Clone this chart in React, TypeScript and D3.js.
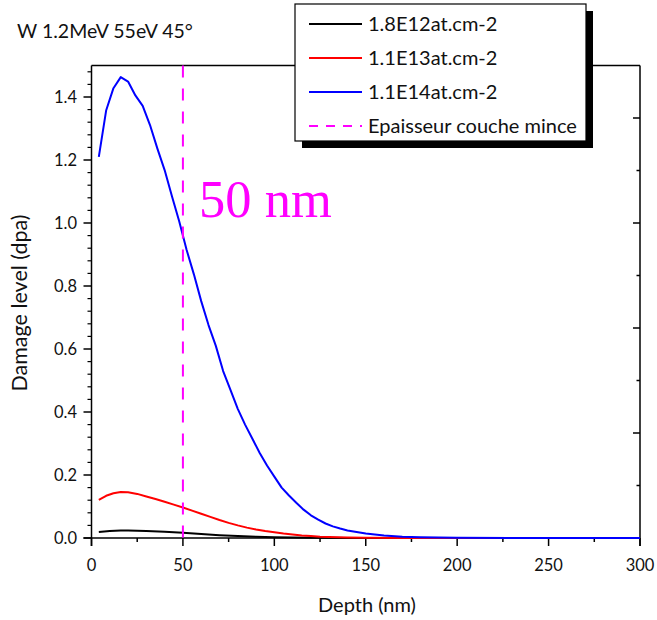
import React from "react";
import * as d3 from "d3";

const blueX = [4, 8, 12, 16, 20, 24, 28, 32, 36, 40, 44, 48, 52, 56, 60, 64, 68, 72, 76, 80, 84, 88, 92, 96, 100, 104, 108, 112, 116, 120, 124, 128, 132, 136, 140, 150, 160, 170, 180, 200, 250, 300];
const blueY = [1.21, 1.357, 1.428, 1.463, 1.449, 1.405, 1.372, 1.311, 1.237, 1.168, 1.085, 1.005, 0.915, 0.837, 0.752, 0.676, 0.61, 0.53, 0.47, 0.41, 0.36, 0.315, 0.27, 0.23, 0.195, 0.16, 0.135, 0.112, 0.09, 0.072, 0.058, 0.046, 0.037, 0.03, 0.024, 0.014, 0.008, 0.004, 0.002, 0.0005, 0, 0];

const redX = [4, 8, 12, 16, 20, 25, 30, 35, 40, 45, 50, 55, 60, 65, 70, 75, 80, 85, 90, 95, 100, 105, 110, 115, 120, 125, 130, 140, 150, 170, 200, 300];
const redY = [0.121, 0.134, 0.142, 0.146, 0.145, 0.14, 0.132, 0.124, 0.115, 0.106, 0.097, 0.087, 0.077, 0.067, 0.057, 0.048, 0.04, 0.033, 0.027, 0.022, 0.018, 0.014, 0.011, 0.008, 0.006, 0.004, 0.003, 0.0015, 0.0008, 0.0002, 0, 0];

const blackX = [4, 10, 16, 20, 30, 40, 50, 60, 70, 80, 90, 100, 110, 120, 140, 160, 200, 300];
const blackY = [0.019, 0.022, 0.024, 0.024, 0.022, 0.02, 0.017, 0.013, 0.009, 0.006, 0.004, 0.0025, 0.0015, 0.001, 0.0003, 0.0001, 0, 0];

const seriesNames = ["1.8E12at.cm-2", "1.1E13at.cm-2", "1.1E14at.cm-2", "Epaisseur couche mince"];
const seriesColors = ["#000000", "#ff0000", "#0000ff", "#ff00ff"];

const xTicks = [0, 50, 100, 150, 200, 250, 300];
const yTicks = [0, 0.2, 0.4, 0.6, 0.8, 1.0, 1.2, 1.4];
const thicknessNm = 50;
const title = "W 1.2MeV 55eV 45°";
const xLabel = "Depth (nm)";
const yLabel = "Damage level (dpa)";
const annotation = "50 nm";

const FONT = "Lato, 'Open Sans', sans-serif";

export default function App() {
  const x = d3.scaleLinear().domain([0, 300]).range([91.5, 640]);
  const y = d3.scaleLinear().domain([0, 1.5]).range([538, 65.5]);
  const line = d3
    .line<[number, number]>()
    .x((d) => x(d[0]))
    .y((d) => y(d[1]));

  const zip = (xs: number[], ys: number[]) => xs.map((v, i) => [v, ys[i]] as [number, number]);
  const series = [zip(blackX, blackY), zip(redX, redY), zip(blueX, blueY)];

  const x0 = x(0), x1 = x(300), yb = y(0), yt = y(1.5);

  const xMinor = d3.range(25, 300, 50);
  const yMinor = d3.range(0, 1.5, 0.04).filter((v) => Math.abs(v / 0.2 - Math.round(v / 0.2)) > 0.01);
  const rMajor = [1, 2, 3, 4].map((k) => k / 3);
  const rMinor = [1, 3, 5, 7].map((k) => k / 6);

  const legX = 295, legY = 4, legW = 291, legH = 137;
  const rowY = [24, 58, 92, 126];

  return (
    <svg width={657} height={620} style={{ position: "absolute", left: 0, top: 0, background: "#fff" }}>
      <rect x={0} y={0} width={657} height={620} fill="#fff" />
      {/* frame */}
      <line x1={x0} y1={yt} x2={x1} y2={yt} stroke="#000" strokeWidth={1.5} />
      <line x1={x1} y1={yt} x2={x1} y2={yb + 8} stroke="#000" strokeWidth={1.5} />
      <line x1={x0} y1={yt} x2={x0} y2={yb + 8} stroke="#000" strokeWidth={1.5} />
      <line x1={x0 - 8} y1={yb} x2={x1} y2={yb} stroke="#000" strokeWidth={1.5} />

      {/* x ticks */}
      {xTicks.map((t) => (
        <g key={"xt" + t}>
          <line x1={x(t)} x2={x(t)} y1={yb} y2={yb + 8} stroke="#000" strokeWidth={1.5} />
          <text x={x(t)} y={570.5} fontSize={16.5} fontFamily={FONT} textAnchor="middle" fill="#111">
            {t}
          </text>
        </g>
      ))}
      {xMinor.map((t) => (
        <line key={"xm" + t} x1={x(t)} x2={x(t)} y1={yb} y2={yb + 4} stroke="#000" strokeWidth={1.5} />
      ))}

      {/* y ticks */}
      {yTicks.map((t) => (
        <g key={"yt" + t}>
          <line x1={x0 - 8} x2={x0} y1={y(t)} y2={y(t)} stroke="#000" strokeWidth={1.5} />
          <text x={77} y={y(t) + 6} fontSize={16.5} fontFamily={FONT} textAnchor="end" fill="#111">
            {t.toFixed(1)}
          </text>
        </g>
      ))}
      {yMinor.map((t, i) => (
        <line key={"ym" + i} x1={x0 - 4} x2={x0} y1={y(t)} y2={y(t)} stroke="#000" strokeWidth={1.2} />
      ))}

      {/* right ticks (inward) */}
      {rMajor.map((t, i) => (
        <line key={"rM" + i} x1={x1 - 7} x2={x1} y1={y(t)} y2={y(t)} stroke="#000" strokeWidth={1.5} />
      ))}
      {rMinor.map((t, i) => (
        <line key={"rm" + i} x1={x1 - 3.5} x2={x1} y1={y(t)} y2={y(t)} stroke="#000" strokeWidth={1.5} />
      ))}

      {/* series */}
      {series.map((s, i) => (
        <path key={"s" + i} d={line(s) || ""} fill="none" stroke={seriesColors[i]} strokeWidth={2} strokeLinejoin="round" />
      ))}

      {/* thickness line */}
      <line
        x1={x(thicknessNm)}
        x2={x(thicknessNm)}
        y1={yt}
        y2={yb}
        stroke={seriesColors[3]}
        strokeWidth={2}
        strokeDasharray="12 11"
      />
      <text x={199} y={217} fontSize={52.5} fontFamily="'Liberation Serif', 'Times New Roman', serif" fill="#ff00ff">
        {annotation}
      </text>

      {/* legend */}
      <rect x={legX + 7} y={legY + 7} width={legW} height={legH} fill="#000" />
      <rect x={legX} y={legY} width={legW} height={legH} fill="#fff" stroke="#000" strokeWidth={1.2} />
      {seriesNames.map((n, i) => (
        <g key={"lg" + i}>
          <line
            x1={309}
            x2={362}
            y1={rowY[i]}
            y2={rowY[i]}
            stroke={seriesColors[i]}
            strokeWidth={2}
            strokeDasharray={i === 3 ? "9 8" : undefined}
          />
          <text x={368} y={rowY[i] + 7} fontSize={20} fontFamily={FONT} fill="#111">
            {n}
          </text>
        </g>
      ))}

      {/* labels */}
      <text x={17} y={38} fontSize={19.5} fontFamily={FONT} fill="#111">
        {title}
      </text>
      <text x={367} y={612} fontSize={20} fontFamily={FONT} textAnchor="middle" fill="#111">
        {xLabel}
      </text>
      <text
        transform={`translate(27,303) rotate(-90)`}
        fontSize={21.5}
        fontFamily={FONT}
        textAnchor="middle"
        fill="#111"
      >
        {yLabel}
      </text>
    </svg>
  );
}
